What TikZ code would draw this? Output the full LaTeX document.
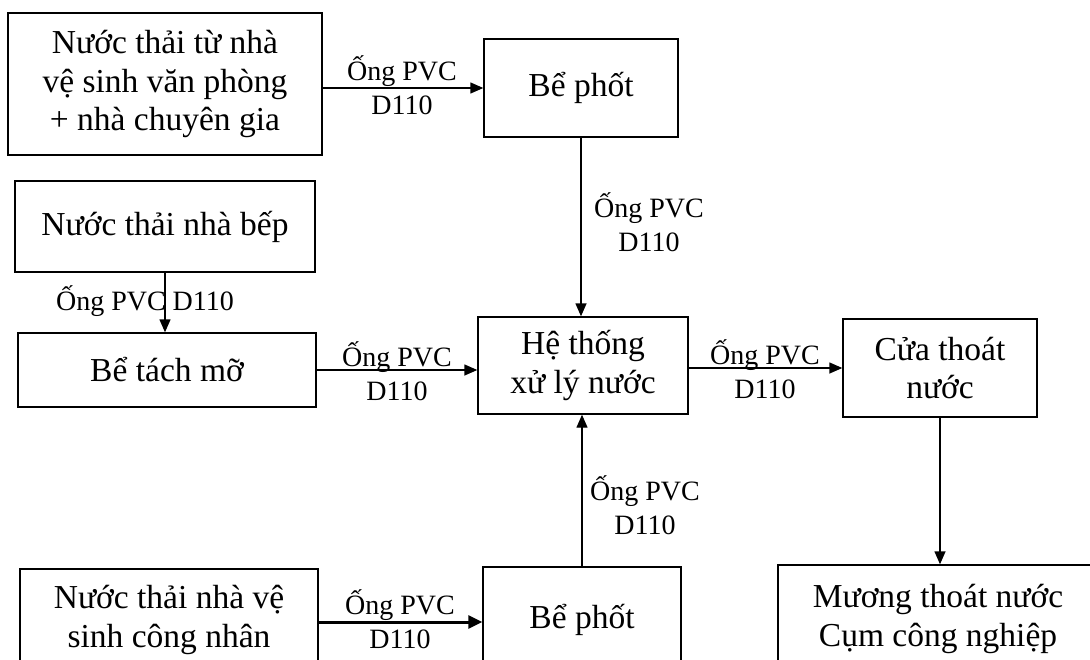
\documentclass[tikz,border=0pt]{standalone}
\usepackage{fontspec}
\setmainfont{Liberation Serif}
\usetikzlibrary{arrows.meta}
\newcommand\mainf{\fontsize{33.5}{38.5}\selectfont}
\newcommand\labf{\fontsize{28}{34}\selectfont}
\tikzset{
  boxn/.style={draw, line width=1.4pt, align=center, inner sep=0pt, font=\mainf},
  lab/.style={align=center, inner sep=0pt, anchor=base, font=\labf},
  arr/.style={line width=1.4pt, -{Triangle[length=13pt,width=11pt]}},
  arrthick/.style={line width=3pt, -{Triangle[length=14pt,width=13pt]}},
}
\begin{document}
\begin{tikzpicture}[x=1pt,y=-1pt]
\useasboundingbox (0,0) rectangle (1090,659);
\fill[white] (0,0) rectangle (1090,659);
\clip (0,0) rectangle (1090,659);
% boxes
\node[boxn, minimum width=314pt, minimum height=142pt] (A) at (165,84) {Nước thải từ nhà\\vệ sinh văn phòng\\+ nhà chuyên gia};
\node[boxn, minimum width=194pt, minimum height=98pt] (B1) at (581,88) {Bể phốt};
\node[boxn, minimum width=300pt, minimum height=91pt] (K) at (165,226.5) {Nước thải nhà bếp};
\node[boxn, minimum width=298pt, minimum height=74pt] (T) at (167,370) {Bể tách mỡ};
\node[boxn, minimum width=210pt, minimum height=97pt] (H) at (583,365.5) {Hệ thống\\xử lý nước};
\node[boxn, minimum width=194pt, minimum height=98pt] (C) at (940,368) {Cửa thoát\\nước};
\node[boxn, minimum width=298pt, minimum height=102pt] (W) at (169,620) {Nước thải nhà vệ\\sinh công nhân};
\node[boxn, minimum width=198pt, minimum height=106pt] (B2) at (582,620) {Bể phốt};
\node[boxn, minimum width=320pt, minimum height=108pt] (M) at (938,619) {Mương thoát nước\\Cụm công nghiệp};
% labels (base = baseline of last line)
\node[lab] (L1) at (402,114) {Ống PVC\\D110};
\node[lab] (L2) at (649,251) {Ống PVC\\D110};
\node[lab] (L3) at (145,310) {Ống PVC D110};
\node[lab] (L4) at (397,400) {Ống PVC\\D110};
\node[lab] (L5) at (765,398) {Ống PVC\\D110};
\node[lab] (L6) at (645,534) {Ống PVC\\D110};
\node[lab] (L7) at (400,648) {Ống PVC\\D110};
% connectors
\draw[arr] (A.east |- B1.west) -- (B1.west);
\draw[arr] (B1.south) -- (B1.south |- H.north);
\draw[arr] (K.south) -- (K.south |- T.north);
\draw[arr] (T.east) -- (T.east -| H.west);
\draw[arr] (H.east |- C.west) -- (C.west);
\draw[arr] (B2.north) -- (B2.north |- H.south);
\draw[arr] (C.south) -- (C.south |- M.north);
\draw[arrthick] (W.east |- 0,622) -- (B2.west |- 0,622);
\end{tikzpicture}
\end{document}
